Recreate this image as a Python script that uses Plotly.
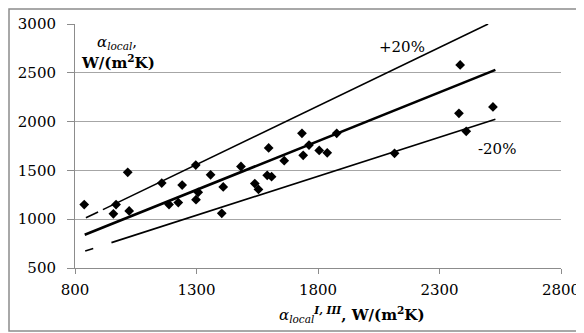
import plotly.graph_objects as go

# Experimental points: alpha_local^{I,III} (x) vs alpha_local (y), W/(m2K)
x_exp = [838, 969, 958, 1017, 1023, 1157, 1187, 1225, 1241, 1297, 1298, 1307,
         1358, 1404, 1410, 1483, 1540, 1555, 1591, 1609, 1597, 1661, 1739, 1734,
         1763, 1805, 1838, 1877, 2115, 2380, 2385, 2410, 2520]
y_exp = [1150, 1150, 1055, 1480, 1085, 1370, 1150, 1170, 1350, 1555, 1200, 1275,
         1455, 1060, 1330, 1540, 1365, 1305, 1450, 1435, 1730, 1600, 1655, 1880,
         1760, 1705, 1680, 1880, 1675, 2085, 2580, 1900, 2150]

# Reference lines y = k * x
center_k = 1.0
center_x = [840, 2530]
upper_k = 1.2
upper_dash_x = [845, 895]
upper_solid_x = [915, 2500]
lower_k = 0.8
lower_dash_x = [842, 875]
lower_solid_x = [950, 2530]

x_ticks = [800, 1300, 1800, 2300, 2800]
y_ticks = [500, 1000, 1500, 2000, 2500, 3000]

FONT = "DejaVu Serif"

fig = go.Figure()

def add_line(xs, k, width, dash="solid"):
    fig.add_trace(go.Scatter(x=xs, y=[k * v for v in xs], mode="lines",
                             line=dict(color="black", width=width, dash=dash),
                             showlegend=False, hoverinfo="skip"))

add_line(center_x, center_k, 2.6)
add_line(upper_dash_x, upper_k, 1.6)
add_line(upper_solid_x, upper_k, 1.6)
add_line(lower_dash_x, lower_k, 1.6)
add_line(lower_solid_x, lower_k, 1.6)

fig.add_trace(go.Scatter(x=x_exp, y=y_exp, mode="markers",
                         marker=dict(symbol="diamond", size=7.5, color="black",
                                     line=dict(width=0)),
                         showlegend=False))

# page body has an 8px default margin, so the figure is 8px smaller than the window
fig.update_layout(
    template="none",
    width=576, height=325,
    margin=dict(l=67, r=23, t=16, b=65),
    paper_bgcolor="white", plot_bgcolor="white",
    font=dict(family=FONT, size=15, color="black"),
    xaxis=dict(range=[800, 2800], tickvals=x_ticks, showgrid=False, zeroline=False,
               showline=True, linecolor="#8c8c8c", linewidth=1,
               ticks="outside", ticklen=5, tickcolor="#8c8c8c",
               ticklabelstandoff=3),
    yaxis=dict(range=[500, 3000], tickvals=y_ticks, showgrid=True,
               gridcolor="#a6a6a6", gridwidth=1, zeroline=False,
               showline=True, linecolor="#8c8c8c", linewidth=1,
               ticks="outside", ticklen=7, tickcolor="#8c8c8c",
               ticklabelstandoff=8),
    shapes=[dict(type="rect", xref="paper", yref="paper",
                 x0=-0.1358, x1=1.0432, y0=-0.2582, y1=1.0615,
                 line=dict(color="#8c8c8c", width=1.5), layer="above")],
    annotations=[
        dict(text="<i>α</i><sub><i>local</i></sub><sup><b><i>I, III</i></b></sup><b>, W/(m<sup>2</sup>K)</b>",
             xref="paper", yref="paper", x=0.57, y=-0.19, xanchor="center",
             yanchor="middle", showarrow=False),
        dict(text="<i>α</i><sub><i>local</i></sub>,",
             xref="paper", yref="paper", x=0.0864, y=0.925, xanchor="center",
             yanchor="middle", showarrow=False),
        dict(text="<b>W/(m<sup>2</sup>K)</b>",
             xref="paper", yref="paper", x=0.0885, y=0.845, xanchor="center",
             yanchor="middle", showarrow=False),
        dict(text="+20%", xref="paper", yref="paper", x=0.673, y=0.906,
             xanchor="center", yanchor="middle", showarrow=False),
        dict(text="-20%", xref="paper", yref="paper", x=0.868, y=0.488,
             xanchor="center", yanchor="middle", showarrow=False),
    ],
)

fig.write_html("out.html")
